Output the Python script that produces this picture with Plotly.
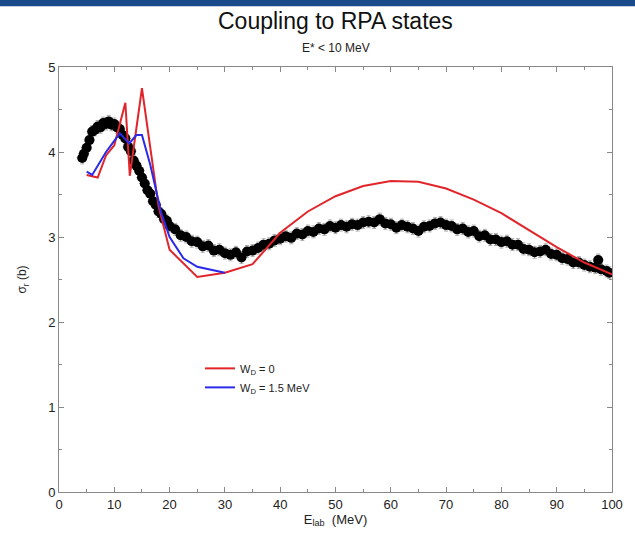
import plotly.graph_objects as go

# measured cross section (black points)
e_data = [4.2, 4.5, 5, 5.5, 6, 6.5, 7, 7.5, 8, 8.5, 9, 9.5, 10, 10.5, 11, 11.5, 12, 12.5,
          13, 13.5, 14, 14.5, 15, 15.5, 16, 16.5, 17, 17.5, 18, 18.5, 19, 19.5, 20,
          21, 22, 23, 24, 25, 26, 27, 28, 29, 30, 31, 32, 33, 34, 35, 36, 37, 38, 39,
          40, 41, 42, 43, 44, 45, 46, 47, 48, 49, 50, 51, 52, 53, 54, 55, 56, 57, 58,
          59, 60, 61, 62, 63, 64, 65, 66, 67, 68, 69, 70, 71, 72, 73, 74, 75, 76, 77,
          78, 79, 80, 81, 82, 83, 84, 85, 86, 87, 88, 89, 90, 91, 92, 93, 94, 95, 96,
          97, 97.5, 98, 99, 99.5]
sigma_data = [3.93, 3.98, 4.05, 4.14, 4.24, 4.26, 4.30, 4.29, 4.34, 4.33, 4.36, 4.32, 4.33,
              4.29, 4.27, 4.20, 4.16, 4.06, 4.01, 3.90, 3.84, 3.78, 3.70, 3.63, 3.55, 3.51,
              3.42, 3.38, 3.30, 3.27, 3.21, 3.19, 3.13, 3.09, 3.02, 3.00, 2.95, 2.94, 2.89,
              2.90, 2.84, 2.85, 2.81, 2.79, 2.82, 2.76, 2.83, 2.84, 2.87, 2.91, 2.92, 2.96,
              2.98, 3.01, 2.99, 3.04, 3.03, 3.07, 3.06, 3.10, 3.09, 3.13, 3.11, 3.14, 3.12,
              3.15, 3.14, 3.17, 3.18, 3.17, 3.21, 3.16, 3.15, 3.11, 3.14, 3.12, 3.10, 3.07,
              3.12, 3.13, 3.16, 3.17, 3.14, 3.13, 3.09, 3.10, 3.06, 3.07, 3.01, 3.02, 2.97,
              2.97, 2.94, 2.95, 2.91, 2.91, 2.86, 2.85, 2.82, 2.83, 2.85, 2.80, 2.79, 2.75,
              2.74, 2.70, 2.70, 2.67, 2.65, 2.64, 2.73, 2.62, 2.60, 2.58]

# calculation, W_D = 0 (red)
e_red = [5, 7, 8.5, 10, 12, 12.8, 15, 18, 20, 25, 30, 35, 40, 45, 50, 55, 60, 65, 70,
         75, 80, 85, 90, 95, 100]
sigma_red = [3.73, 3.70, 3.96, 4.08, 4.58, 3.72, 4.75, 3.36, 2.85, 2.53, 2.58, 2.68,
             3.05, 3.30, 3.48, 3.60, 3.66, 3.65, 3.57, 3.44, 3.28, 3.08, 2.88, 2.70, 2.56]

# calculation, W_D = 1.5 MeV (blue)
e_blue = [5, 6, 8.5, 11, 12.7, 14, 15, 16.5, 18.5, 20, 22.5, 25, 30]
sigma_blue = [3.77, 3.73, 4.00, 4.22, 4.10, 4.20, 4.20, 3.85, 3.28, 3.00, 2.75, 2.65, 2.58]

fig = go.Figure()

fig.add_trace(go.Scatter(
    x=e_data, y=sigma_data, mode="markers", showlegend=False,
    marker=dict(color="black", size=10),
    error_y=dict(type="constant", value=0.07, color="#aaaaaa", thickness=1, width=2),
    error_x=dict(type="constant", value=1.0, color="#999999", thickness=1, width=0),
))
fig.add_trace(go.Scatter(
    x=e_red, y=sigma_red, mode="lines", name="W<sub>D</sub> = 0",
    line=dict(color="#e0262b", width=2),
))
fig.add_trace(go.Scatter(
    x=e_blue, y=sigma_blue, mode="lines", name="W<sub>D</sub> = 1.5 MeV",
    line=dict(color="#2a2ae8", width=2),
))

axis_style = dict(
    showline=True, linecolor="#888888", linewidth=1, mirror="ticks",
    ticks="inside", ticklen=5, tickcolor="#888888", showgrid=False, zeroline=False,
    tickfont=dict(family="Liberation Sans, Arial", size=13, color="#222222"),
)

fig.update_xaxes(
    range=[0, 100], dtick=10,
    minor=dict(dtick=5, ticks="inside", ticklen=3, tickcolor="#888888"),
    title=dict(text="E<sub>lab</sub>  (MeV)", standoff=2,
               font=dict(family="Liberation Sans, Arial", size=13, color="#222222")),
    **axis_style,
)
fig.update_yaxes(
    range=[0, 5], dtick=1,
    minor=dict(dtick=0.5, ticks="inside", ticklen=3, tickcolor="#888888"),
    title=dict(text="σ<sub>r</sub> (b)", standoff=18,
               font=dict(family="Liberation Sans, Arial", size=12, color="#222222")),
    **axis_style,
)

fig.update_layout(
    width=635, height=535,
    margin=dict(l=59, r=19, t=67, b=42),
    plot_bgcolor="white", paper_bgcolor="white",
    font=dict(family="Liberation Sans, Arial", color="#222222"),
    legend=dict(x=0.255, y=0.325, xanchor="left", yanchor="top",
                bgcolor="rgba(0,0,0,0)", tracegroupgap=0,
                font=dict(size=11, color="#222222")),
    shapes=[dict(type="rect", xref="paper", yref="paper", x0=-0.2, x1=1.2,
                 y0=1.143, y1=1.2, fillcolor="#1b4a8a", line_width=0, layer="above")],
    annotations=[
        dict(text="Coupling to RPA states", xref="paper", yref="paper", x=0.5, y=1.108,
             showarrow=False, yanchor="middle", font=dict(size=23, color="#111111")),
        dict(text="E* < 10 MeV", xref="paper", yref="paper", x=0.5, y=1.045,
             showarrow=False, yanchor="middle", font=dict(size=12, color="#222222")),
    ],
)

fig.write_html("out.html", config={"displayModeBar": False},
               post_script="document.body.style.margin='0';"
                           "document.body.style.overflow='hidden';")
